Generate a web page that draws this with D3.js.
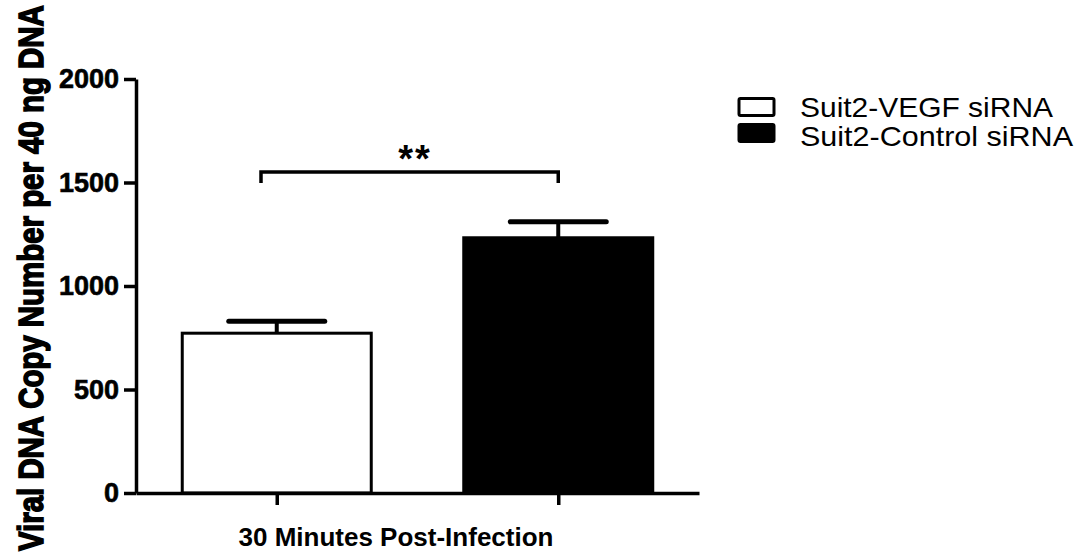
<!DOCTYPE html>
<html>
<head>
<meta charset="utf-8">
<script src="https://cdn.jsdelivr.net/npm/d3@7"></script>
<style>
  html, body { margin: 0; padding: 0; background: #fff; }
  svg { display: block; }
</style>
</head>
<body>
<svg id="chart" width="1083" height="556"></svg>
<script>
const categories = ["Suit2-VEGF siRNA", "Suit2-Control siRNA"];
const values = [772, 1233];
const errors = [58, 77];
const fills = ["#ffffff", "#000000"];
const yTicks = [0, 500, 1000, 1500, 2000];
const xTitle = "30 Minutes Post-Infection";
const yTitle = "Viral DNA Copy Number per 40 ng DNA";
const sigLabel = "**";

const svg = d3.select("#chart");
const FONT = "'Liberation Sans', Arial, sans-serif";

const x = d3.scalePoint().domain(categories).range([136, 699]).padding(0.5);
const y = d3.scaleLinear().domain([0, 2000]).range([493, 79]);
const barW = 189;

// bars
svg.selectAll("rect.bar").data(categories).enter().append("rect")
  .attr("class", "bar")
  .attr("x", d => x(d) - barW / 2)
  .attr("width", barW)
  .attr("y", (d, i) => y(values[i]))
  .attr("height", (d, i) => y(0) - y(values[i]))
  .attr("fill", (d, i) => fills[i])
  .attr("stroke", "#000")
  .attr("stroke-width", 3);

// error bars
const capW = 96;
svg.selectAll("line.err").data(categories).enter().append("line")
  .attr("x1", d => x(d)).attr("x2", d => x(d))
  .attr("y1", (d, i) => y(values[i]))
  .attr("y2", (d, i) => y(values[i] + errors[i]))
  .attr("stroke", "#000").attr("stroke-width", 4);
svg.selectAll("line.cap").data(categories).enter().append("line")
  .attr("x1", d => x(d) - capW / 2).attr("x2", d => x(d) + capW / 2)
  .attr("y1", (d, i) => y(values[i] + errors[i]))
  .attr("y2", (d, i) => y(values[i] + errors[i]))
  .attr("stroke", "#000").attr("stroke-width", 5).attr("stroke-linecap", "round");

// axes
const gx = svg.append("g").attr("transform", `translate(0,${y(0)})`)
  .call(d3.axisBottom(x).tickSize(12).tickSizeOuter(0).tickFormat(""));
gx.select(".domain").attr("stroke-width", 3.5);
gx.selectAll(".tick line").attr("stroke-width", 3.5);

const gy = svg.append("g").attr("transform", `translate(136,0)`)
  .call(d3.axisLeft(y).tickValues(yTicks).tickFormat(d3.format("d"))
        .tickSize(12).tickSizeOuter(0).tickPadding(5));
gy.select(".domain").attr("stroke-width", 3.5);
gy.selectAll(".tick line").attr("stroke-width", 3.5);
gy.selectAll(".tick text")
  .attr("font-family", FONT).attr("font-weight", "bold").attr("font-size", 27)
  .attr("fill", "#000").attr("stroke", "#000").attr("stroke-width", 0.6);

// axis titles
svg.append("text")
  .attr("x", 396).attr("y", 546)
  .attr("text-anchor", "middle")
  .attr("font-family", FONT).attr("font-weight", "bold").attr("font-size", 26)
  .text(xTitle);

const yt = svg.append("text")
  .attr("x", 0).attr("y", 0)
  .attr("font-family", FONT).attr("font-weight", "bold").attr("font-size", 36)
  .attr("stroke", "#000").attr("stroke-width", 1.6)
  .text(yTitle);
const natural = yt.node().getComputedTextLength();
const sx = 546 / natural;
yt.attr("transform", `translate(43,551) rotate(-90) scale(${sx},1)`);

// significance bracket
const bx1 = 261, bx2 = x(categories[1]);
const by = 172, bdrop = 11;
svg.append("path")
  .attr("d", `M${bx1},${by + bdrop}V${by}H${bx2}V${by + bdrop}`)
  .attr("fill", "none").attr("stroke", "#000").attr("stroke-width", 3.5);
svg.append("text")
  .attr("x", 415).attr("y", 172)
  .attr("text-anchor", "middle")
  .attr("font-family", FONT).attr("font-weight", "bold").attr("font-size", 38)
  .attr("letter-spacing", 2)
  .text(sigLabel);

// legend
const lg = svg.append("g");
const legY = [97, 123];
const legBase = [117, 146];
categories.forEach((c, i) => {
  lg.append("rect")
    .attr("x", 739).attr("y", legY[i] + 1.5)
    .attr("width", 35).attr("height", 17)
    .attr("rx", 1.5)
    .attr("fill", fills[i]).attr("stroke", "#000").attr("stroke-width", 3);
  lg.append("text")
    .attr("x", 800).attr("y", legBase[i])
    .attr("font-family", FONT).attr("font-size", 28)
    .attr("textLength", i === 0 ? 253 : 273).attr("lengthAdjust", "spacingAndGlyphs")
    .text(c);
});
</script>
</body>
</html>
